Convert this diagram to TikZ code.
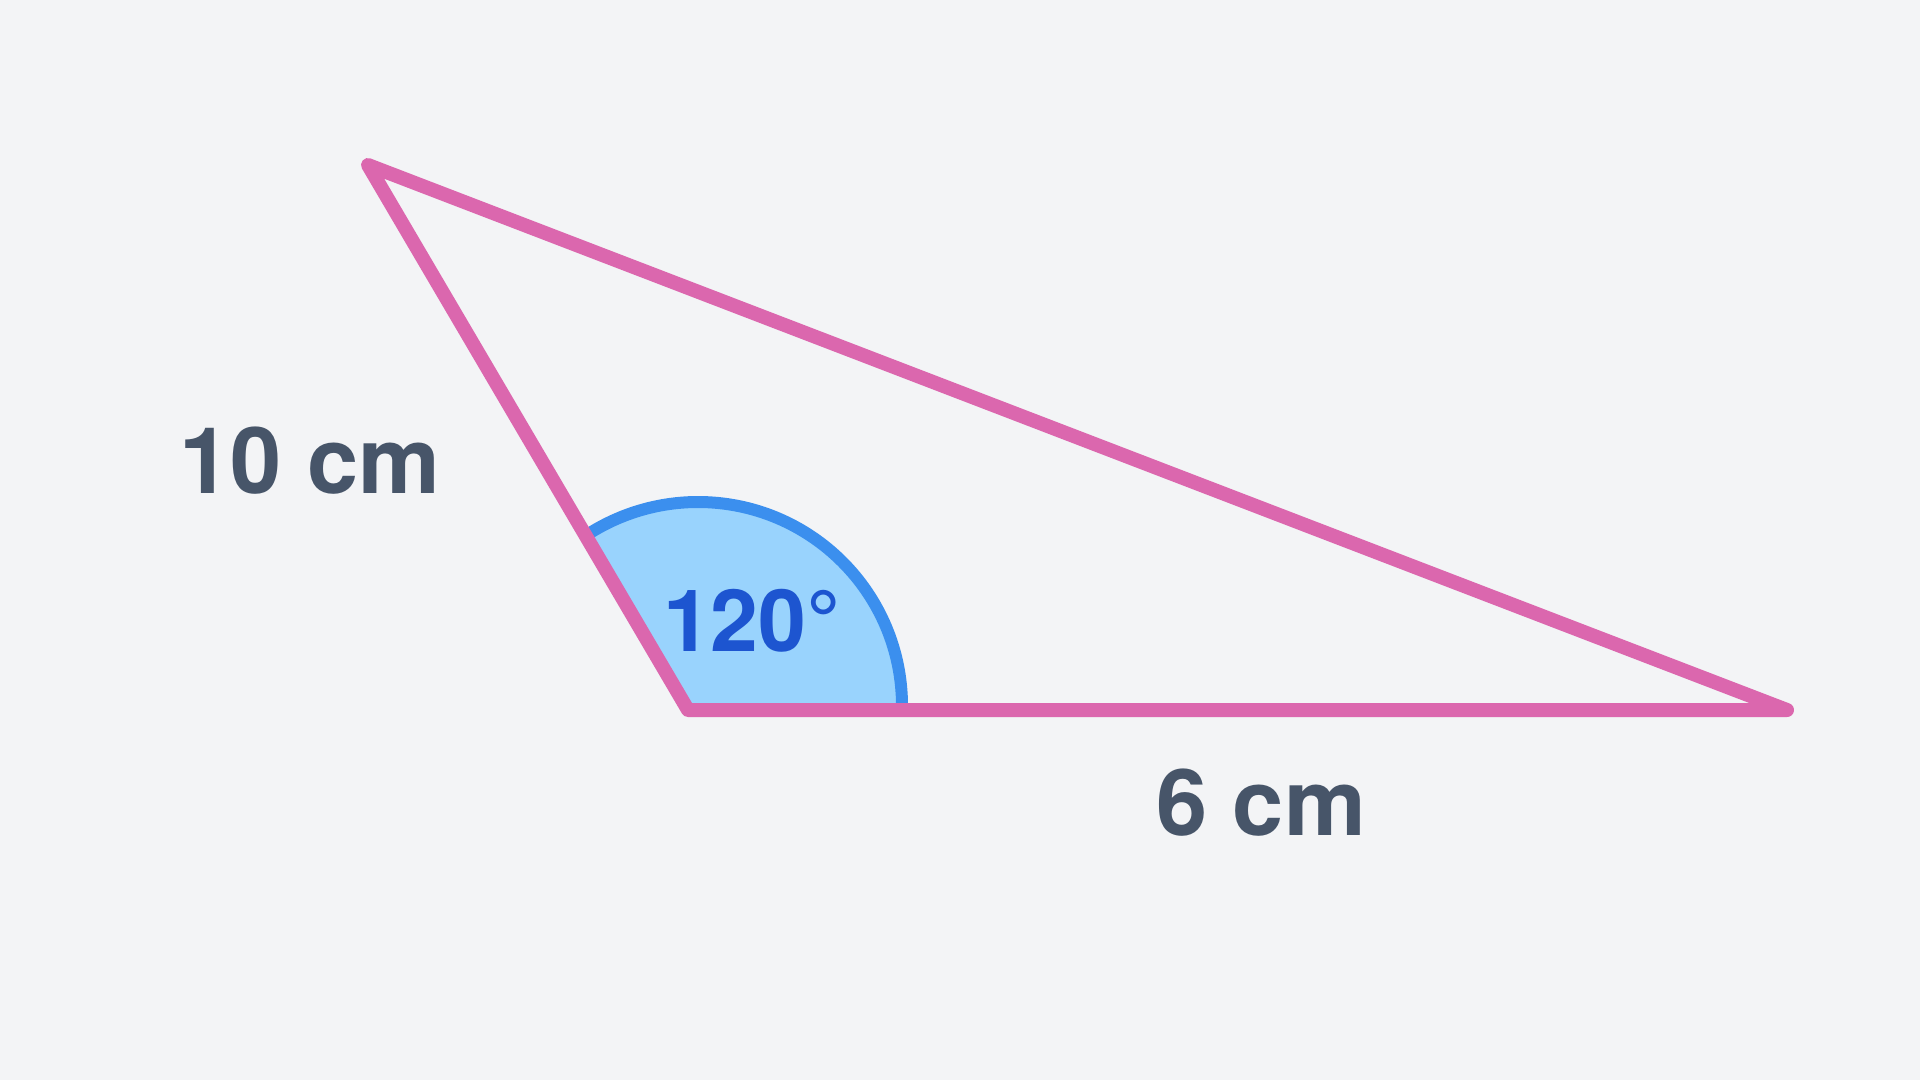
\documentclass[tikz,border=0pt]{standalone}
\usepackage{fontspec}
\setmainfont{TeX Gyre Heros}
\usetikzlibrary{calc}
\definecolor{bgcol}{HTML}{F3F4F6}
\definecolor{sidecol}{HTML}{DB67AE}
\definecolor{arccol}{HTML}{3B8FEE}
\definecolor{wedgecol}{HTML}{99D3FD}
\definecolor{labcol}{HTML}{475569}
\definecolor{anglecol}{HTML}{1D55D0}
\tikzset{
	x=0.5pt, y=-0.5pt,
	side/.style = {draw=sidecol, line width=7pt, line join=round, line cap=round},
	wedge/.style = {fill=wedgecol},
	anglearc/.style = {draw=arccol, line width=6pt},
	lab/.style = {text=labcol, font=\fontsize{46}{50}\selectfont\bfseries, anchor=base, inner sep=0pt},
	anglelab/.style = {text=anglecol, font=\fontsize{43}{46}\selectfont\bfseries, anchor=base, inner sep=0pt}
}
\begin{document}
\begin{tikzpicture}
		\fill[bgcol] (0,0) rectangle (1920,1080);
		\useasboundingbox (0,0) rectangle (1920,1080);
		\coordinate (A) at (368,165);
		\coordinate (B) at (688,710);
		\coordinate (C) at (1787,710);
		\coordinate (O) at (698,706);
		
		% angle at B
		\path[wedge] (B) -- ($(O)+(204,0)$) arc[start angle=0, end angle=-122, radius=204] -- cycle;
		\draw[anglearc] ($(O)+(204,0)$) arc[start angle=0, end angle=-122, radius=204];
		
		% sides
		\draw[side] (A) -- (B) -- (C) -- cycle;
		
		% labels
		\node[lab] (ab) at (310,493) {10 cm};
		\node[lab] (bc) at (1261,835) {6 cm};
		\node[anglelab] (ang) at (752,651) {120°};
		\end{tikzpicture}
\end{document}
